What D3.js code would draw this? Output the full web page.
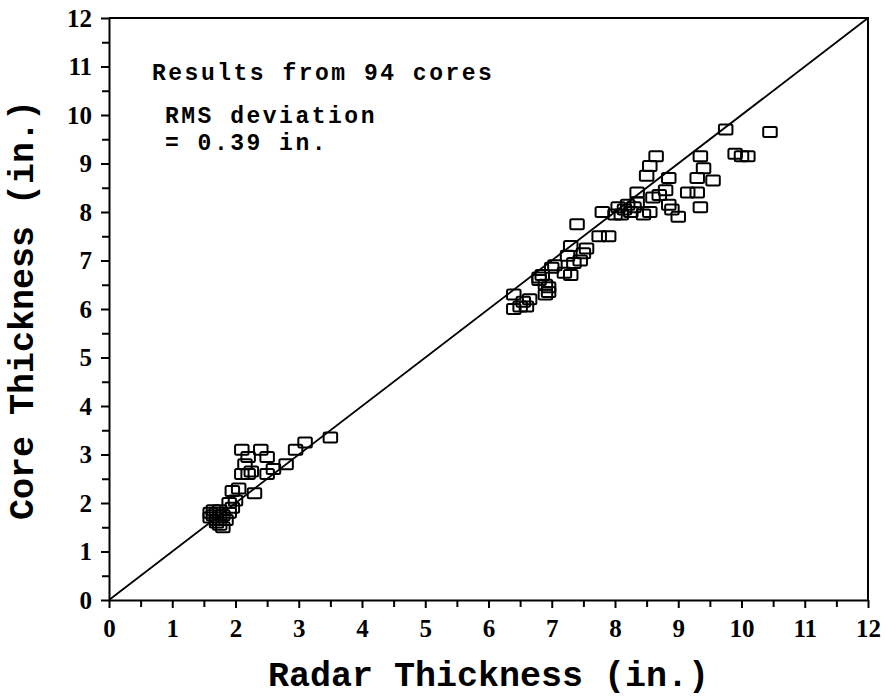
<!DOCTYPE html>
<html>
<head>
<meta charset="utf-8">
<script src="https://cdn.jsdelivr.net/npm/d3@7"></script>
<style>
  html, body { margin: 0; padding: 0; background: #fff; }
  svg { display: block; }
</style>
</head>
<body>
<svg id="chart" width="886" height="700"></svg>
<script>
// ---- Data ----
const radarLow = [1.6,1.65,1.7,1.75,1.6,1.7,1.8,1.65,1.75,1.7,1.75,1.8,1.85,1.9,1.95,1.9,2.0,1.95,2.05,2.3,2.1,2.2,2.25,2.5,2.15,2.2,2.1,2.4,2.5,2.6,2.8,2.95,3.1,3.5];
const coreLow  = [1.8,1.75,1.8,1.7,1.7,1.65,1.75,1.85,1.85,1.6,1.55,1.5,1.65,1.8,1.9,2.0,2.05,2.25,2.3,2.2,2.6,2.6,2.65,2.6,2.8,2.95,3.1,3.1,2.95,2.7,2.8,3.1,3.25,3.35];
const radarHigh = [6.4,6.5,6.6,6.4,6.55,6.65,6.8,6.85,6.9,6.95,6.9,6.95,6.8,7.0,7.05,7.2,7.3,7.35,7.25,7.3,7.45,7.5,7.55,7.4,7.75,7.9,7.8,8.0,8.05,8.1,8.15,8.2,8.25,8.3,8.35,8.35,8.45,8.55,8.5,8.55,8.65,8.7,8.8,8.85,8.85,8.9,9.0,9.15,9.3,9.3,9.35,9.4,9.35,9.55,9.75,9.9,10.0,10.1,10.45,8.6];
const coreHigh  = [6.0,6.05,6.05,6.3,6.15,6.2,6.6,6.7,6.5,6.35,6.3,6.45,6.65,6.85,6.9,6.75,6.7,6.95,7.1,7.3,7.0,7.15,7.25,7.75,7.5,7.5,8.0,7.95,8.1,7.95,8.05,8.15,8.0,8.1,8.2,8.4,7.95,8.0,8.75,8.95,9.15,8.35,8.45,8.7,8.15,8.05,7.9,8.4,8.4,8.7,9.15,8.9,8.1,8.65,9.7,9.2,9.15,9.15,9.65,8.3];
const tickValues = [0,1,2,3,4,5,6,7,8,9,10,11,12];
const minorTickValues = [0.5,1.5,2.5,3.5,4.5,5.5,6.5,7.5,8.5,9.5,10.5,11.5];
const xTitle = "Radar Thickness (in.)";
const yTitle = "Core Thickness (in.)";
const noteLines = ["Results from 94 cores", "RMS deviation", "= 0.39 in."];

(function () {
const radar = radarLow.concat(radarHigh);
const core = coreLow.concat(coreHigh);
const points = radar.map((r, i) => ({ x: r, y: core[i] }));

// ---- Layout ----
const svg = d3.select("#chart");
const mL = 109, mR = 868, mT = 18, mB = 600;
const x = d3.scaleLinear().domain([0, 12]).range([mL, mR]);
const y = d3.scaleLinear().domain([0, 12]).range([mB, mT]);

const tickFont = "'Liberation Serif','DejaVu Serif',serif";
const monoFont = "'Liberation Mono','Courier New','DejaVu Sans Mono',monospace";

// frame (top and right)
svg.append("path")
  .attr("d", `M${mL},${mT}H${mR}V${mB}`)
  .attr("fill", "none").attr("stroke", "#000").attr("stroke-width", 2);

// X axis
svg.append("g").attr("transform", `translate(0,${mB})`)
  .call(d3.axisBottom(x).tickValues(tickValues).tickSize(8).tickSizeOuter(0).tickPadding(11).tickFormat(d3.format("d")));
svg.append("g").attr("transform", `translate(0,${mB})`)
  .call(d3.axisBottom(x).tickValues(minorTickValues).tickSize(7).tickSizeOuter(0).tickFormat(""))
  .call(g => g.select(".domain").remove());

// Y axis
svg.append("g").attr("transform", `translate(${mL},0)`)
  .call(d3.axisLeft(y).tickValues(tickValues).tickSize(8).tickSizeOuter(0).tickPadding(9).tickFormat(d3.format("d")));
svg.append("g").attr("transform", `translate(${mL},0)`)
  .call(d3.axisLeft(y).tickValues(minorTickValues).tickSize(7).tickSizeOuter(0).tickFormat(""))
  .call(g => g.select(".domain").remove());

svg.selectAll(".domain").attr("stroke", "#000").attr("stroke-width", 2);
svg.selectAll(".tick line").attr("stroke", "#000").attr("stroke-width", 2);
svg.selectAll(".tick text")
  .attr("fill", "#000")
  .style("font-family", tickFont)
  .style("font-weight", "bold")
  .style("font-size", "25px");

// 1:1 line
svg.append("line")
  .attr("x1", x(0)).attr("y1", y(0))
  .attr("x2", x(12)).attr("y2", y(12))
  .attr("stroke", "#000").attr("stroke-width", 1.8);

// points (open squares)
const bw = 13.5, bh = 10;
svg.append("g").selectAll("rect").data(points).join("rect")
  .attr("x", d => x(d.x) - bw / 2)
  .attr("y", d => y(d.y) - bh / 2)
  .attr("width", bw).attr("height", bh)
  .attr("rx", 1.5)
  .attr("fill", "none")
  .attr("stroke", "#000").attr("stroke-width", 2);

// axis titles
svg.append("text")
  .attr("x", (mL + mR) / 2).attr("y", 686)
  .attr("text-anchor", "middle")
  .style("font-family", monoFont).style("font-size", "35px").style("font-weight", "bold")
  .text(xTitle);

svg.append("text")
  .attr("transform", `translate(33,310) rotate(-90)`)
  .attr("text-anchor", "middle")
  .style("font-family", monoFont).style("font-size", "35px").style("font-weight", "bold")
  .text(yTitle);

// annotation
const note = svg.append("g").style("font-family", monoFont).style("font-weight", "bold")
  .style("font-size", "23px").style("letter-spacing", "2.5px");
note.append("text").attr("x", 152).attr("y", 80).text(noteLines[0]);
note.append("text").attr("x", 165).attr("y", 123).text(noteLines[1]);
note.append("text").attr("x", 165).attr("y", 150).text(noteLines[2]);
})();
</script>
</body>
</html>
